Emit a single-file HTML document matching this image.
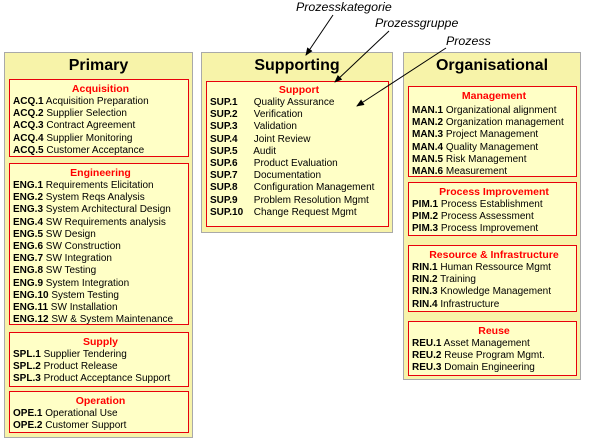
<!DOCTYPE html>
<html><head><meta charset="utf-8"><style>
body{margin:0;width:591px;height:444px;background:#fff;position:relative;overflow:hidden;font-family:"Liberation Sans",Arial,sans-serif;color:#000}
.o{position:absolute;background:#f7f3a9;border:1px solid #a9a9a9;box-sizing:border-box}
.o h1{margin:0;font-size:16px;font-weight:bold;text-align:center;position:absolute;left:0;right:0;top:4px}
.i{position:absolute;background:#ffffc6;border:1px solid #e8000b;box-sizing:border-box;font-size:10px;line-height:12.2px;padding-left:3px;white-space:nowrap}
.i .t{color:#f00;font-weight:bold;text-align:center;font-size:10.5px;line-height:13px;padding-left:0}
b{font-weight:bold}
.s span{display:inline-block;width:41px;font-weight:bold}
.a{position:absolute;font-style:italic;font-size:12.4px;white-space:nowrap}
</style></head><body>
<div class="o" style="left:4px;top:52px;width:189px;height:386px"><h1>Primary</h1></div>
<div class="o" style="left:201px;top:52px;width:192px;height:181px"><h1>Supporting</h1></div>
<div class="o" style="left:403px;top:52px;width:178px;height:328px"><h1>Organisational</h1></div>

<div class="i" style="left:9px;top:79px;width:180px;height:78px;padding-top:3px">
<div class="t">Acquisition</div>
<b>ACQ.1</b> Acquisition Preparation<br><b>ACQ.2</b> Supplier Selection<br><b>ACQ.3</b> Contract Agreement<br><b>ACQ.4</b> Supplier Monitoring<br><b>ACQ.5</b> Customer Acceptance</div>

<div class="i" style="left:9px;top:163px;width:180px;height:162px;padding-top:3px">
<div class="t">Engineering</div>
<b>ENG.1</b> Requirements Elicitation<br><b>ENG.2</b> System Reqs Analysis<br><b>ENG.3</b> System Architectural Design<br><b>ENG.4</b> SW Requirements analysis<br><b>ENG.5</b> SW Design<br><b>ENG.6</b> SW Construction<br><b>ENG.7</b> SW Integration<br><b>ENG.8</b> SW Testing<br><b>ENG.9</b> System Integration<br><b>ENG.10</b> System Testing<br><b>ENG.11</b> SW Installation<br><b>ENG.12</b> SW &amp; System Maintenance</div>

<div class="i" style="left:9px;top:332px;width:180px;height:55px;padding-top:3px">
<div class="t">Supply</div>
<b>SPL.1</b> Supplier Tendering<br><b>SPL.2</b> Product Release<br><b>SPL.3</b> Product Acceptance Support</div>

<div class="i" style="left:9px;top:391px;width:180px;height:42px;padding-top:3px">
<div class="t">Operation</div>
<b>OPE.1</b> Operational Use<br><b>OPE.2</b> Customer Support</div>

<div class="i s" style="left:206px;top:81px;width:183px;height:146px;padding-top:2px;padding-left:3px">
<div class="t">Support</div>
<span>SUP.1</span> Quality Assurance<br><span>SUP.2</span> Verification<br><span>SUP.3</span> Validation<br><span>SUP.4</span> Joint Review<br><span>SUP.5</span> Audit<br><span>SUP.6</span> Product Evaluation<br><span>SUP.7</span> Documentation<br><span>SUP.8</span> Configuration Management<br><span>SUP.9</span> Problem Resolution Mgmt<br><span>SUP.10</span> Change Request Mgmt</div>

<div class="i" style="left:408px;top:86px;width:169px;height:91px;padding-top:3px">
<div class="t" style="margin-bottom:2px">Management</div>
<b>MAN.1</b> Organizational alignment<br><b>MAN.2</b> Organization management<br><b>MAN.3</b> Project Management<br><b>MAN.4</b> Quality Management<br><b>MAN.5</b> Risk Management<br><b>MAN.6</b> Measurement</div>

<div class="i" style="left:408px;top:182px;width:169px;height:54px;padding-top:3px">
<div class="t">Process Improvement</div>
<b>PIM.1</b> Process Establishment<br><b>PIM.2</b> Process Assessment<br><b>PIM.3</b> Process Improvement</div>

<div class="i" style="left:408px;top:245px;width:169px;height:67px;padding-top:3px">
<div class="t">Resource &amp; Infrastructure</div>
<b>RIN.1</b> Human Ressource Mgmt<br><b>RIN.2</b> Training<br><b>RIN.3</b> Knowledge Management<br><b>RIN.4</b> Infrastructure</div>

<div class="i" style="left:408px;top:321px;width:169px;height:55px;padding-top:3px">
<div class="t">Reuse</div>
<b>REU.1</b> Asset Management<br><b>REU.2</b> Reuse Program Mgmt.<br><b>REU.3</b> Domain Engineering</div>

<div class="a" style="left:296px;top:0px">Prozesskategorie</div>
<div class="a" style="left:375px;top:16px">Prozessgruppe</div>
<div class="a" style="left:446px;top:34px">Prozess</div>
<svg width="591" height="444" style="position:absolute;left:0;top:0" >
<defs><marker id="m" markerWidth="8" markerHeight="8" refX="7" refY="4" orient="auto" markerUnits="userSpaceOnUse"><path d="M0,0.8 L8,4 L0,7.2z" fill="#000"/></marker></defs>
<g stroke="#000" stroke-width="1" fill="none" marker-end="url(#m)">
<line x1="333" y1="15" x2="306" y2="55"/>
<line x1="389" y1="31" x2="335" y2="82"/>
<line x1="446" y1="48" x2="357" y2="106"/>
</g></svg>
</body></html>
